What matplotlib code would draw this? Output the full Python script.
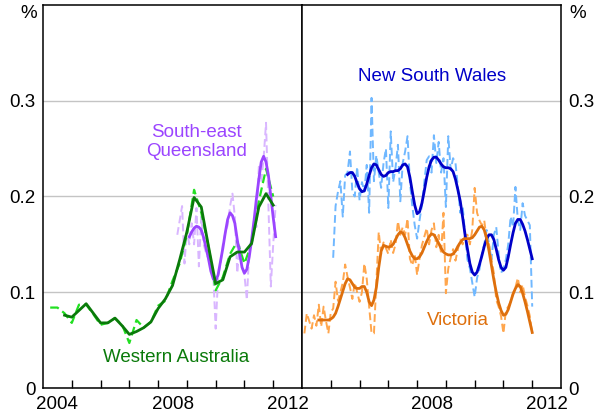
import numpy as np
import matplotlib
matplotlib.use("Agg")
import matplotlib.pyplot as plt
from matplotlib.ticker import FixedLocator

plt.rcParams['font.family'] = ['Liberation Sans', 'DejaVu Sans']

# ---------------- data ----------------
# Western Australia (quarterly), raw from Q1 2004, trend from Q3 2004
wa_raw_start = (2004, 1)
wa_raw = [0.084, 0.084, 0.078, 0.068,
          0.087, 0.087, 0.077, 0.066,
          0.068, 0.073, 0.066, 0.047,
          0.071, 0.063, 0.069, 0.086,
          0.091, 0.112, 0.130, 0.160,
          0.207, 0.183, 0.148, 0.102,
          0.116, 0.140, 0.153, 0.130,
          0.151, 0.195, 0.229, 0.200]
wa_trend_start = (2004, 3)
wa_trend = [0.076, 0.074,
            0.081, 0.088, 0.078, 0.068,
            0.068, 0.073, 0.065, 0.056,
            0.059, 0.063, 0.069, 0.083,
            0.093, 0.107, 0.134, 0.163,
            0.199, 0.189, 0.148, 0.109,
            0.113, 0.137, 0.142, 0.142,
            0.151, 0.189, 0.203, 0.191]

# South-east Queensland (monthly)
seq_raw_start = (2008, 8)
seq_raw = [0.160, 0.175, 0.190, 0.130, 0.165,
           0.150, 0.172, 0.150, 0.188, 0.127, 0.179, 0.150, 0.141, 0.135, 0.125, 0.118, 0.062,
           0.116, 0.130, 0.150, 0.162, 0.170, 0.190, 0.203, 0.179, 0.120, 0.148, 0.125, 0.118,
           0.092, 0.144, 0.150, 0.176, 0.168, 0.231, 0.215, 0.240, 0.277, 0.190, 0.106, 0.150,
           0.191]
seq_trend_start = (2009, 1)
seq_trend = [0.158, 0.163, 0.167, 0.169, 0.168, 0.165, 0.157, 0.146, 0.135, 0.122, 0.114, 0.112,
             0.118, 0.132, 0.146, 0.162, 0.176, 0.183, 0.180, 0.172, 0.155, 0.140, 0.126, 0.120,
             0.124, 0.137, 0.155, 0.175, 0.198, 0.218, 0.236, 0.242, 0.236, 0.222, 0.200, 0.178,
             0.158]

# New South Wales (monthly)
nsw_raw_start = (2005, 1)
nsw_raw = [0.136, 0.190, 0.205, 0.216, 0.179, 0.222, 0.225, 0.247, 0.205, 0.200, 0.231, 0.196,
           0.215, 0.205, 0.233, 0.183, 0.303, 0.216, 0.243, 0.225, 0.209, 0.235, 0.250, 0.188,
           0.268, 0.215, 0.230, 0.254, 0.195, 0.235, 0.247, 0.263, 0.215, 0.190, 0.170, 0.156,
           0.175, 0.191, 0.215, 0.238, 0.242, 0.225, 0.264, 0.235, 0.257, 0.225, 0.240, 0.189,
           0.263, 0.228, 0.240, 0.235, 0.210, 0.183, 0.190, 0.160, 0.134, 0.125, 0.110, 0.095,
           0.115, 0.124, 0.140, 0.150, 0.165, 0.150, 0.134, 0.160, 0.168, 0.140, 0.120, 0.125,
           0.134, 0.150, 0.179, 0.168, 0.210, 0.175, 0.165, 0.193, 0.180, 0.175, 0.170, 0.085]
nsw_trend_start = (2005, 7)
nsw_trend = [0.223, 0.225, 0.225, 0.221, 0.214, 0.208,
             0.205, 0.206, 0.213, 0.222, 0.230, 0.234, 0.233, 0.228, 0.223, 0.221, 0.222, 0.225,
             0.226, 0.226, 0.227, 0.227, 0.229, 0.233, 0.234, 0.231, 0.220, 0.205, 0.191, 0.182,
             0.184, 0.193, 0.206, 0.220, 0.231, 0.238, 0.241, 0.241, 0.238, 0.234, 0.231, 0.230,
             0.230, 0.229, 0.226, 0.218, 0.207, 0.195, 0.178, 0.160, 0.145, 0.130, 0.121, 0.118,
             0.121, 0.129, 0.138, 0.148, 0.156, 0.160, 0.160, 0.155, 0.145, 0.134, 0.126, 0.123,
             0.126, 0.137, 0.150, 0.162, 0.172, 0.176, 0.176, 0.171, 0.164, 0.155, 0.145, 0.135]

# Victoria (monthly)
vic_raw_start = (2004, 1)
vic_raw = [0.057, 0.078, 0.070, 0.062, 0.076, 0.065, 0.087, 0.064, 0.085, 0.070, 0.057, 0.079,
           0.083, 0.111, 0.091, 0.100, 0.110, 0.129, 0.116, 0.105, 0.093, 0.110, 0.100, 0.090,
           0.100, 0.130, 0.114, 0.085, 0.057, 0.057, 0.110, 0.163, 0.140, 0.152, 0.146, 0.140,
           0.155, 0.141, 0.150, 0.174, 0.160, 0.168, 0.160, 0.177, 0.135, 0.128, 0.140, 0.118,
           0.135, 0.149, 0.158, 0.167, 0.150, 0.165, 0.172, 0.147, 0.160, 0.140, 0.183, 0.099,
           0.125, 0.136, 0.145, 0.133, 0.145, 0.155, 0.150, 0.160, 0.160, 0.150, 0.165, 0.209,
           0.183, 0.175, 0.170, 0.175, 0.155, 0.150, 0.134, 0.120, 0.092, 0.085, 0.075, 0.057,
           0.081, 0.085, 0.090, 0.099, 0.105, 0.115, 0.100, 0.108, 0.095, 0.086, 0.075, 0.057]
vic_trend_start = (2004, 7)
vic_trend = [0.071, 0.071, 0.071, 0.071, 0.071, 0.072,
             0.074, 0.078, 0.085, 0.093, 0.101, 0.109, 0.114, 0.113, 0.109, 0.105, 0.104, 0.104,
             0.106, 0.106, 0.100, 0.090, 0.086, 0.092, 0.105, 0.126, 0.143, 0.149, 0.148, 0.147,
             0.148, 0.150, 0.155, 0.160, 0.163, 0.162, 0.157, 0.150, 0.143, 0.138, 0.135, 0.135,
             0.137, 0.141, 0.147, 0.153, 0.158, 0.161, 0.160, 0.156, 0.151, 0.146, 0.142, 0.140,
             0.139, 0.139, 0.140, 0.143, 0.148, 0.152, 0.155, 0.156, 0.156, 0.156, 0.157, 0.160,
             0.164, 0.168, 0.169, 0.165, 0.156, 0.143, 0.128, 0.113, 0.100, 0.089, 0.081, 0.076,
             0.077, 0.082, 0.090, 0.098, 0.104, 0.108, 0.106, 0.099, 0.090, 0.080, 0.069, 0.058]

year_ticks = list(range(2005, 2013))
left_labels = ['2004', '2008', '2012']
right_labels = ['2008', '2012']
y_ticks = [0, 0.1, 0.2, 0.3]
y_labels = ['0', '0.1', '0.2', '0.3']


def monthly_x(start, n):
    y, m = start
    return y + (m + np.arange(n)) / 12.0


def quarterly_x(start, n):
    y, q = start
    return y + (3 * q + 3 * np.arange(n)) / 12.0


# ---------------- figure ----------------
W, H = 603, 415
fig = plt.figure(figsize=(W / 100, H / 100), dpi=100)
ax_l = fig.add_axes([43 / W, 1 - 388 / H, 259 / W, 383 / H])
ax_r = fig.add_axes([302 / W, 1 - 388 / H, 259 / W, 383 / H])

FS = 13.5
dash = (0, (4, 2))

# left panel
ax_l.plot(monthly_x(seq_raw_start, len(seq_raw)), seq_raw, color='#d9b6ff', lw=1.4, ls=dash, zorder=3)
ax_l.plot(quarterly_x(wa_raw_start, len(wa_raw)), wa_raw, color='#22e022', lw=1.6, ls=dash, zorder=3)
ax_l.plot(monthly_x(seq_trend_start, len(seq_trend)), seq_trend, color='#9b45ff', lw=2.0, zorder=4)
ax_l.plot(quarterly_x(wa_trend_start, len(wa_trend)), wa_trend, color='#0a7a0a', lw=2.0, zorder=5)

# right panel
ax_r.plot(monthly_x(nsw_raw_start, len(nsw_raw)), nsw_raw, color='#70b8ff', lw=1.4, ls=dash, zorder=3)
ax_r.plot(monthly_x(vic_raw_start, len(vic_raw)), vic_raw, color='#ffa64d', lw=1.4, ls=dash, zorder=3)
ax_r.plot(monthly_x(nsw_trend_start, len(nsw_trend)), nsw_trend, color='#0000c8', lw=2.0, zorder=4)
ax_r.plot(monthly_x(vic_trend_start, len(vic_trend)), vic_trend, color='#de6f0c', lw=2.0, zorder=5)

for ax, labels in ((ax_l, left_labels), (ax_r, right_labels)):
    ax.set_xlim(2004, 2013)
    ax.set_ylim(0, 0.4)
    ax.xaxis.set_major_locator(FixedLocator([int(s) + 0.5 for s in labels]))
    ax.set_xticklabels(labels, fontsize=FS)
    ax.xaxis.set_minor_locator(FixedLocator(year_ticks))
    ax.tick_params(axis='x', which='major', length=0, pad=6)
    ax.tick_params(axis='x', which='minor', direction='in', length=6, width=1, color='black')
    ax.set_yticks(y_ticks)
    ax.set_yticklabels(y_labels, fontsize=FS)
    ax.tick_params(axis='y', length=0, pad=5.5)
    ax.grid(axis='y', color='#c4c4c4', lw=1)
    ax.set_axisbelow(True)
    for sp in ax.spines.values():
        sp.set_linewidth(1.1)
        sp.set_color('black')

ax_r.yaxis.tick_right()
ax_r.tick_params(axis='y', length=0, pad=5)

# labels
ax_l.text(2009.32, 0.257, 'South-east\nQueensland', color='#9b45ff', fontsize=FS,
          ha='center', va='center', linespacing=1.15)
ax_l.text(2008.63, 0.032, 'Western Australia', color='#0a7a0a', fontsize=FS,
          ha='center', va='center')
ax_r.text(2008.52, 0.325, 'New South Wales', color='#0000c8', fontsize=FS,
          ha='center', va='center')
ax_r.text(2009.41, 0.071, 'Victoria', color='#de6f0c', fontsize=FS,
          ha='center', va='center')

fig.text(29 / W, 1 - 14 / H, '%', fontsize=FS, ha='center', va='center')
fig.text(578 / W, 1 - 14 / H, '%', fontsize=FS, ha='center', va='center')

fig.savefig('out.png', dpi=100)
